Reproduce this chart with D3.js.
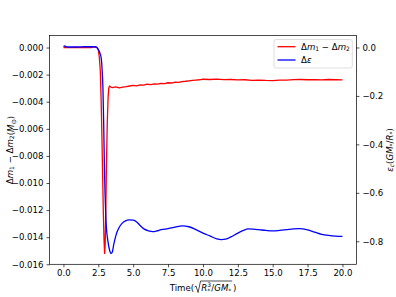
<!DOCTYPE html>
<html><head><meta charset="utf-8">
<script src="https://cdn.jsdelivr.net/npm/d3@7"></script>
<style>body{margin:0;background:#fff}svg{display:block}text{font-family:"DejaVu Sans",sans-serif}</style>
</head><body>
<svg id="c" width="396" height="297"></svg>
<script>
// ---- data ----
const redT = [0,0.25,0.5,0.75,1,1.25,1.5,1.75,2,2.2,2.4,2.5,2.57,2.64,2.7,2.76,2.81,2.86,2.91,2.95,2.99,3.03,3.08,3.14,3.2,3.25,3.3,3.4,3.5,3.75,4,4.25,4.5,4.75,5,5.25,5.5,5.75,6,6.25,6.5,6.75,7,7.25,7.5,7.75,8,8.25,8.5,8.75,9,9.25,9.5,9.75,10,10.5,11,11.5,12,12.5,13,13.5,14,14.5,15,15.5,16,16.5,17,17.5,18,18.5,19,19.5,20];
const redV = [0.00000,0.00001,-0.00001,0.00000,0.00001,0.00000,-0.00001,0.00001,0.00000,0.00006,0.00002,-0.0002,-0.0007,-0.0017,-0.0038,-0.0067,-0.0095,-0.0122,-0.0142,-0.0152,-0.0146,-0.0125,-0.0088,-0.0056,-0.0037,-0.0030,-0.00284,-0.00292,-0.00296,-0.00290,-0.00298,-0.00292,-0.00289,-0.00284,-0.00280,-0.00283,-0.00276,-0.00278,-0.00271,-0.00274,-0.00268,-0.00270,-0.00264,-0.00266,-0.00260,-0.00262,-0.00255,-0.00258,-0.00251,-0.00249,-0.00246,-0.00243,-0.00240,-0.00238,-0.00234,-0.00236,-0.00233,-0.00237,-0.00236,-0.00239,-0.00238,-0.00242,-0.00240,-0.00243,-0.00244,-0.00241,-0.00240,-0.00237,-0.00236,-0.00238,-0.00237,-0.00239,-0.00236,-0.00238,-0.00239];
const blueT = [0,0.1,0.25,0.5,1,1.5,2,2.3,2.45,2.55,2.63,2.71,2.77,2.83,2.88,2.93,2.98,3.04,3.11,3.19,3.3,3.4,3.5,3.6,3.72,3.84,4,4.2,4.45,4.7,5,5.25,5.5,5.8,6.1,6.4,6.7,7,7.5,8,8.5,9,9.5,10,10.5,11,11.3,11.7,12,12.5,13,13.2,13.6,14,14.5,15,15.5,16,16.5,16.9,17.5,18,18.5,19,19.5,20];
const blueV = [0.004,0.006,0.002,0.002,0.002,0.003,0.003,0.002,-0.004,-0.014,-0.026,-0.045,-0.090,-0.167,-0.30,-0.47,-0.60,-0.705,-0.765,-0.80,-0.835,-0.850,-0.845,-0.815,-0.785,-0.762,-0.742,-0.726,-0.716,-0.712,-0.713,-0.720,-0.735,-0.750,-0.757,-0.760,-0.757,-0.752,-0.748,-0.742,-0.736,-0.740,-0.752,-0.766,-0.778,-0.790,-0.793,-0.790,-0.782,-0.766,-0.753,-0.749,-0.750,-0.752,-0.755,-0.757,-0.755,-0.752,-0.749,-0.748,-0.753,-0.762,-0.771,-0.776,-0.779,-0.780];
const xTicks = [0,2.5,5,7.5,10,12.5,15,17.5,20];
const yLeftTicks = [0,-0.002,-0.004,-0.006,-0.008,-0.010,-0.012,-0.014,-0.016];
const yRightTicks = [0,-0.2,-0.4,-0.6,-0.8];

// ---- layout ----
const L = 49.5, R = 356.4, T = 35.6, B = 264.3, FS = 8.6;
const svg = d3.select("#c");
const x = d3.scaleLinear().domain([-1, 21]).range([L, R]);
const yL = d3.scaleLinear().domain([-0.016, 0.00088]).range([B, T]);
const yR = d3.scaleLinear().domain([-0.895, 0.049]).range([B, T]);

function styleAxis(g){
  g.select(".domain").remove();
  g.selectAll(".tick line").attr("stroke","#000").attr("stroke-width",0.7);
  g.selectAll(".tick text").attr("fill","#000").style("font-family","DejaVu Sans").style("font-size",FS+"px");
}
svg.append("g").attr("transform",`translate(0,${B})`)
  .call(d3.axisBottom(x).tickValues(xTicks).tickFormat(d3.format(".1f")).tickSize(3).tickPadding(3)).call(styleAxis);
svg.append("g").attr("transform",`translate(${L},0)`)
  .call(d3.axisLeft(yL).tickValues(yLeftTicks).tickFormat(d3.format(".3f")).tickSize(3).tickPadding(3)).call(styleAxis);
svg.append("g").attr("transform",`translate(${R},0)`)
  .call(d3.axisRight(yR).tickValues(yRightTicks).tickFormat(d3.format(".1f")).tickSize(3).tickPadding(3)).call(styleAxis);

svg.append("clipPath").attr("id","pc").append("rect").attr("x",L).attr("y",T).attr("width",R-L).attr("height",B-T);
const red = redT.map((t,i)=>[t,redV[i]]);
const blue = blueT.map((t,i)=>[t,blueV[i]]);
svg.append("path").attr("clip-path","url(#pc)").attr("d", d3.line().x(d=>x(d[0])).y(d=>yL(d[1]))(red))
  .attr("fill","none").attr("stroke","#ff0000").attr("stroke-width",1.3).attr("stroke-linejoin","round");
svg.append("path").attr("clip-path","url(#pc)").attr("d", d3.line().curve(d3.curveMonotoneX).x(d=>x(d[0])).y(d=>yR(d[1]))(blue))
  .attr("fill","none").attr("stroke","#0000ff").attr("stroke-width",1.3).attr("stroke-linejoin","round");

svg.append("rect").attr("x",L).attr("y",T).attr("width",R-L).attr("height",B-T)
  .attr("fill","none").attr("stroke","#000").attr("stroke-width",0.7);

// ---- legend ----
const lg = svg.append("g");
lg.append("rect").attr("x",274).attr("y",39.5).attr("width",78.3).attr("height",28.5).attr("rx",2)
  .attr("fill","#fff").attr("fill-opacity",0.8).attr("stroke","#d0d0d0").attr("stroke-width",0.7);
lg.append("line").attr("x1",277.5).attr("x2",295.5).attr("y1",46.7).attr("y2",46.7).attr("stroke","#ff0000").attr("stroke-width",1.3);
lg.append("line").attr("x1",277.5).attr("x2",295.5).attr("y1",60).attr("y2",60).attr("stroke","#0000ff").attr("stroke-width",1.3);
function massLabel(t){
  t.append("tspan").text("Δ");
  t.append("tspan").attr("font-style","italic").text("m");
  t.append("tspan").attr("font-size","0.7em").attr("dy","0.25em").text("1");
  t.append("tspan").attr("dy","-0.175em").text(" − Δ");
  t.append("tspan").attr("font-style","italic").text("m");
  t.append("tspan").attr("font-size","0.7em").attr("dy","0.25em").text("2");
  t.append("tspan").attr("dy","-0.175em").text("");
}
const lt1 = lg.append("text").attr("x",301).attr("y",49.8).attr("font-size",FS);
massLabel(lt1);
const lt2 = lg.append("text").attr("x",301).attr("y",63.1).attr("font-size",FS);
lt2.append("tspan").text("Δ");
lt2.append("tspan").attr("font-style","italic").text("ε");

// ---- axis labels ----
const yl = svg.append("text").attr("transform","translate(12.5,150) rotate(-90)").attr("text-anchor","middle").attr("font-size",FS);
massLabel(yl);
yl.append("tspan").text("(");
yl.append("tspan").attr("font-style","italic").text("M");
yl.append("tspan").attr("font-size","0.75em").attr("dy","0.25em").text("⊙");
yl.append("tspan").attr("dy","-0.19em").text(")");

const yr = svg.append("text").attr("transform","translate(392.5,150) rotate(-90)").attr("text-anchor","middle").attr("font-size",FS);
yr.append("tspan").attr("font-style","italic").text("ε");
yr.append("tspan").attr("font-style","italic").attr("font-size","0.7em").attr("dy","0.25em").text("c");
yr.append("tspan").attr("dy","-0.175em").text("(");
yr.append("tspan").attr("font-style","italic").text("GM");
yr.append("tspan").attr("font-size","0.7em").attr("dy","0.25em").text("*");
yr.append("tspan").attr("dy","-0.175em").text("/");
yr.append("tspan").attr("font-style","italic").text("R");
yr.append("tspan").attr("font-size","0.7em").attr("dy","0.25em").text("*");
yr.append("tspan").attr("dy","-0.175em").text(")");

// x label with radical (pieces placed side by side)
const xg = svg.append("g");
const base = 291, SF = FS*0.7;
let cx = 0;
function piece(txt, size, dy, italic){
  const t = xg.append("text").attr("x",cx).attr("y",base+dy).attr("font-size",size).text(txt);
  if (italic) t.attr("font-style","italic");
  return t.node().getComputedTextLength();
}
cx += piece("Time(", FS, 0, false);
const radX = cx; cx += 7.2;
const radStart = cx;
cx += piece("R", FS, 0, true);
const wSup = piece("3", SF, -3.6, false);
const wSub = piece("*", SF, 1.8, false);
cx += Math.max(wSup, wSub) + 0.3;
cx += piece("/", FS, 0, false);
cx += piece("GM", FS, 0, true);
cx += piece("*", SF, 1.8, false);
const endX = cx + 0.8;
xg.append("path").attr("d",`M${radX+0.5},${base-4} L${radX+2},${base-5} L${radX+4},${base+1.5} L${radX+6.5},${base-10} H${endX}`)
  .attr("fill","none").attr("stroke","#000").attr("stroke-width",0.7);
cx = endX + 0.8;
cx += piece(")", FS, 0, false);
xg.attr("transform",`translate(${203 - cx/2},0)`);
</script>
</body></html>
